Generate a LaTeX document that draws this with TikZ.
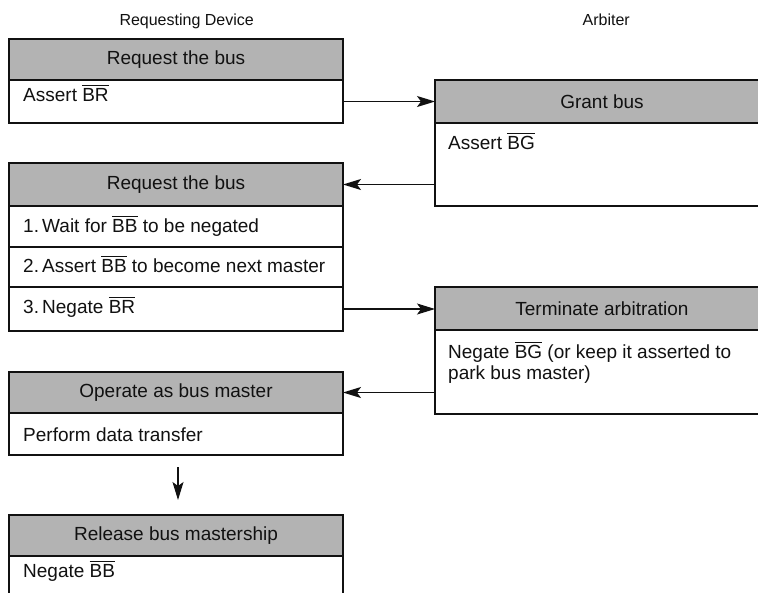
\documentclass[tikz,border=0pt]{standalone}
\usepackage{fontspec}
\setmainfont{Liberation Sans}
\usetikzlibrary{arrows.meta}
\definecolor{boxgray}{HTML}{B3B3B3}
\definecolor{ink}{HTML}{111111}
\newcommand{\barx}[1]{\leavevmode\vbox{\hrule height 0.9pt\kern1.6pt\hbox{#1}}}
\tikzset{
  hdr/.style={draw=ink, line width=1.9pt, fill=boxgray, inner sep=0pt, outer sep=0pt,
    minimum width=334pt, text=ink, font=\fontsize{19}{21}\selectfont},
  row/.style={draw=ink, line width=1.9pt, fill=white, inner sep=0pt, outer sep=0pt,
    minimum width=334pt},
  txt/.style={anchor=base west, inner sep=0pt, text=ink, font=\fontsize{19}{21}\selectfont},
  lbl/.style={anchor=base east, inner sep=0pt, text=ink, font=\fontsize{16}{18}\selectfont},
  arr/.style={draw=ink, line width=1.2pt, -{Stealth[length=18pt 0,width=11pt 0,inset=4pt]}}
}
\begin{document}
\begin{tikzpicture}[x=1pt,y=-1pt]
\clip (0,0) rectangle (758,592);
\fill[white] (0,0) rectangle (758,592);
% column labels
\node[lbl] (labReq) at (254,25) {Requesting Device};
\node[lbl] (labArb) at (630,25) {Arbiter};
% box 1
\node[row, minimum height=43pt] (b1body) at (176,101.5) {};
\node[hdr, minimum height=41pt] (h1) at (176,59.5) {Request the bus};
\node[txt] (t1) at (23,101) {Assert \barx{BR}};
% grant bus
\node[row, minimum height=83pt] (gbody) at (602,164.5) {};
\node[hdr, minimum height=43pt] (gh) at (602,101.5) {Grant bus};
\node[txt] (tg) at (448,149) {Assert \barx{BG}};
% box 2
\node[row, minimum height=41pt] (r1) at (176,226.5) {};
\node[row, minimum height=40pt] (r2) at (176,267) {};
\node[row, minimum height=44pt] (r3) at (176,309) {};
\node[hdr, minimum height=43pt] (h2) at (176,184.5) {Request the bus};
\node[txt] (t21) at (23,232) {1.\,Wait for \barx{BB} to be negated};
\node[txt] (t22) at (23,272) {2.\,Assert \barx{BB} to become next master};
\node[txt] (t23) at (23,313) {3.\,Negate \barx{BR}};
% terminate arbitration
\node[row, minimum height=84pt] (tbody) at (602,372) {};
\node[hdr, minimum height=43pt] (th) at (602,308.5) {Terminate arbitration};
\node[txt] (tt1) at (448,358) {Negate \barx{BG} (or keep it asserted to};
\node[txt] (tt2) at (448,379) {park bus master)};
% box 3
\node[row, minimum height=42pt] (b3body) at (176,434) {};
\node[hdr, minimum height=41pt] (h3) at (176,392.5) {Operate as bus master};
\node[txt] (t3) at (23,441) {Perform data transfer};
% box 4
\node[row, minimum height=44pt] (b4body) at (176,578) {};
\node[hdr, minimum height=41pt] (h4) at (176,535.5) {Release bus mastership};
\node[txt] (t4) at (23,577) {Negate \barx{BB}};
% connectors
\draw[arr] (b1body.east) -- (gh.west |- b1body.east);
\draw[arr] (gbody.west |- h2.east) -- (h2.east);
\draw[arr] (r3.east) -- (th.west |- r3.east);
\draw[arr] (tbody.west |- h3.east) -- (h3.east);
\draw[arr] ([xshift=2pt,yshift=-12pt]b3body.south) -- ([xshift=2pt,yshift=15pt]h4.north);
\end{tikzpicture}
\end{document}
